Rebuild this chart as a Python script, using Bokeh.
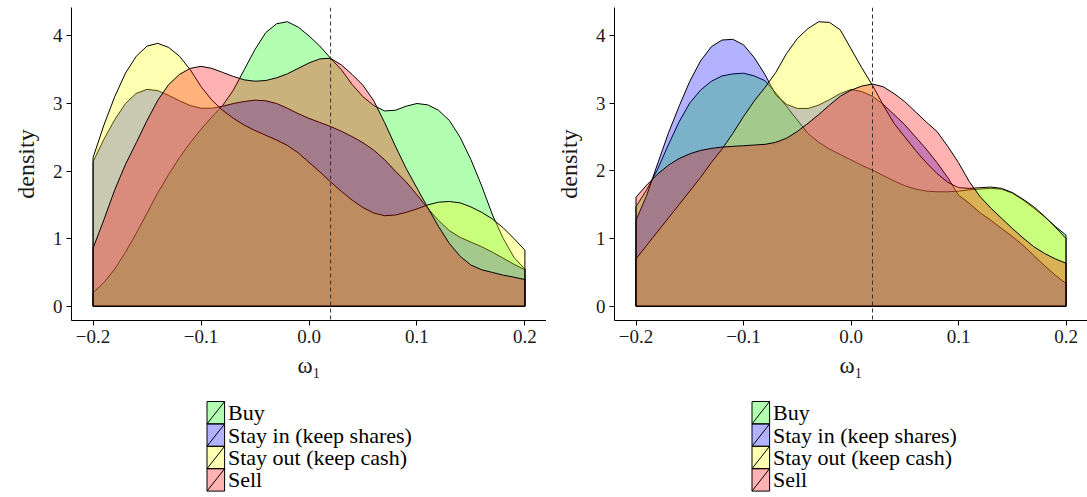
from bokeh.plotting import figure
from bokeh.layouts import row, column
from bokeh.models import Range1d, FixedTicker, CustomJSTickFormatter, Span, ColumnDataSource
from bokeh.core.properties import value
from bokeh.embed import file_html
from bokeh.resources import INLINE

# ---------------- data ----------------
X = [-0.20, -0.19, -0.18, -0.17, -0.16, -0.15, -0.14, -0.13, -0.12, -0.11, -0.10,
     -0.09, -0.08, -0.07, -0.06, -0.05, -0.04, -0.03, -0.02, -0.01, 0.00,
     0.01, 0.02, 0.03, 0.04, 0.05, 0.06, 0.07, 0.08, 0.09, 0.10,
     0.11, 0.12, 0.13, 0.14, 0.15, 0.16, 0.17, 0.18, 0.19, 0.20]

categories = ["Buy", "Stay in (keep shares)", "Stay out (keep cash)", "Sell"]
colors = ["#00FF00", "#0000FF", "#FFFF00", "#FF0000"]

left_buy = [0.20, 0.35, 0.55, 0.80, 1.08, 1.38, 1.68, 1.95, 2.20, 2.42, 2.62,
            2.80, 2.97, 3.20, 3.50, 3.80, 4.05, 4.18, 4.21, 4.13, 4.00,
            3.85, 3.67, 3.50, 3.28, 3.10, 2.97, 2.89, 2.90, 2.96, 3.00,
            2.98, 2.90, 2.75, 2.50, 2.17, 1.78, 1.35, 1.00, 0.72, 0.55]
left_stay_in = [2.14, 2.47, 2.76, 3.00, 3.15, 3.21, 3.19, 3.12, 3.04, 2.97, 2.93,
                2.93, 2.96, 3.00, 3.03, 3.05, 3.04, 3.00, 2.93, 2.85, 2.78,
                2.72, 2.66, 2.59, 2.51, 2.42, 2.31, 2.17, 2.00, 1.84, 1.65,
                1.45, 1.27, 1.12, 1.02, 0.95, 0.88, 0.80, 0.71, 0.62, 0.54]
left_stay_out = [2.20, 2.68, 3.10, 3.45, 3.70, 3.85, 3.89, 3.83, 3.70, 3.50, 3.25,
                 3.05, 2.90, 2.78, 2.68, 2.60, 2.53, 2.46, 2.38, 2.27, 2.13,
                 1.99, 1.84, 1.70, 1.57, 1.46, 1.38, 1.34, 1.35, 1.39, 1.44,
                 1.50, 1.54, 1.55, 1.53, 1.47, 1.39, 1.29, 1.16, 1.00, 0.83]
left_sell = [0.86, 1.28, 1.72, 2.10, 2.42, 2.75, 3.05, 3.28, 3.43, 3.52, 3.55,
             3.52, 3.46, 3.40, 3.35, 3.33, 3.34, 3.38, 3.44, 3.52, 3.60,
             3.66, 3.67, 3.57, 3.43, 3.27, 3.04, 2.72, 2.37, 2.04, 1.75,
             1.46, 1.18, 0.93, 0.74, 0.61, 0.54, 0.50, 0.46, 0.43, 0.395]

right_buy = [1.47, 1.72, 2.02, 2.38, 2.72, 3.00, 3.19, 3.32, 3.40, 3.43, 3.44,
             3.40, 3.33, 3.15, 2.95, 2.75, 2.55, 2.42, 2.32, 2.24, 2.16,
             2.08, 2.01, 1.93, 1.85, 1.78, 1.73, 1.70, 1.69, 1.69, 1.70,
             1.72, 1.73, 1.74, 1.73, 1.67, 1.57, 1.45, 1.32, 1.18, 1.05]
right_stay_in = [1.27, 1.64, 2.10, 2.55, 2.95, 3.32, 3.62, 3.83, 3.93, 3.94, 3.86,
                 3.67, 3.42, 3.12, 2.98, 2.92, 2.92, 2.97, 3.05, 3.14, 3.20,
                 3.17, 3.10, 2.98, 2.83, 2.68, 2.50, 2.32, 2.12, 1.90, 1.64,
                 1.52, 1.38, 1.27, 1.15, 1.03, 0.90, 0.75, 0.60, 0.46, 0.335]
right_stay_out = [0.70, 0.90, 1.10, 1.30, 1.50, 1.70, 1.90, 2.12, 2.32, 2.55, 2.80,
                  3.03, 3.23, 3.45, 3.73, 3.95, 4.10, 4.20, 4.19, 4.08, 3.80,
                  3.52, 3.26, 2.97, 2.70, 2.50, 2.30, 2.12, 1.96, 1.83, 1.75,
                  1.74, 1.75, 1.76, 1.74, 1.68, 1.58, 1.47, 1.33, 1.17, 1.00]
right_sell = [1.61, 1.79, 1.95, 2.08, 2.18, 2.25, 2.30, 2.33, 2.35, 2.36, 2.37,
              2.38, 2.39, 2.42, 2.48, 2.58, 2.70, 2.83, 2.97, 3.10, 3.19,
              3.25, 3.28, 3.24, 3.14, 3.02, 2.87, 2.72, 2.58, 2.36, 2.12,
              1.84, 1.62, 1.45, 1.30, 1.15, 1.01, 0.88, 0.78, 0.70, 0.635]

x_ticks = [-0.2, -0.1, 0.0, 0.1, 0.2]
y_ticks = [0, 1, 2, 3, 4]
vline_x = 0.02

panels = [
    [left_buy, left_stay_in, left_stay_out, left_sell],
    [right_buy, right_stay_in, right_stay_out, right_sell],
]

FONT = "Liberation Serif"
TXT = "#1a1a1a"


def make_panel(series, width, border_left):
    ymax = max(max(s) for s in series)
    xmin, xmax = min(X), max(X)
    xpad = 0.05 * (xmax - xmin)
    p = figure(width=width, height=398, output_backend="svg", toolbar_location=None,
               x_range=Range1d(xmin - xpad, xmax + xpad),
               y_range=Range1d(-0.05 * ymax, 1.05 * ymax),
               min_border_left=border_left, min_border_right=0,
               min_border_top=7, min_border_bottom=78)
    p.outline_line_color = None
    p.grid.visible = False
    p.background_fill_color = "white"
    p.border_fill_color = "white"
    for s, c in zip(series, colors):
        xs = [X[0]] + X + [X[-1]]
        ys = [0.0] + s + [0.0]
        p.patch(xs, ys, fill_color=c, fill_alpha=0.3, line_color="black", line_width=1)
    p.add_layout(Span(location=vline_x, dimension="height", line_color="#333333",
                      line_dash="4 3", line_width=1))
    for ax in (p.xaxis[0], p.yaxis[0]):
        ax.axis_line_color = "black"
        ax.axis_line_width = 1
        ax.major_tick_line_color = "black"
        ax.major_tick_out = 5
        ax.major_tick_in = 0
        ax.minor_tick_line_color = None
        ax.major_label_text_font = FONT
        ax.major_label_text_font_size = "19px"
        ax.major_label_text_color = TXT
        ax.major_label_standoff = 4
        ax.axis_label_text_font = FONT
        ax.axis_label_text_font_style = "normal"
        ax.axis_label_text_color = TXT
    p.xaxis.ticker = FixedTicker(ticks=x_ticks)
    p.xaxis.formatter = CustomJSTickFormatter(
        code="return (tick < -1e-9 ? '\u2212' : '') + Math.abs(tick).toFixed(1);")
    p.yaxis.ticker = FixedTicker(ticks=y_ticks)
    p.xaxis.axis_label = "ω₁"
    p.xaxis.axis_label_text_font_size = "23px"
    p.xaxis.axis_label_standoff = 7
    p.yaxis.axis_label = "density"
    p.yaxis.axis_label_text_font_size = "24px"
    p.yaxis.axis_label_standoff = 11
    return p


def make_legend(width, border_left, frame_width, shift):
    h = 99
    L = figure(width=width, height=h, output_backend="svg", toolbar_location=None,
               x_range=Range1d(0, width), y_range=Range1d(0, h),
               min_border=0, x_axis_type=None, y_axis_type=None)
    L.outline_line_color = None
    L.grid.visible = False
    key_w, key_h, gap, text_w = 17.6, 22.4, 3.4, 183
    block_w = key_w + gap + text_w
    left = border_left + frame_width / 2 - block_w / 2 + shift
    top0 = h - 3
    n = len(categories)
    tops = [top0 - i * key_h for i in range(n)]
    bottoms = [t - key_h for t in tops]
    src = ColumnDataSource(dict(
        left=[left] * n, right=[left + key_w] * n,
        top=tops, bottom=bottoms, color=colors, label=categories,
        tx=[left + key_w + gap] * n,
        ty=[(t + b) / 2 for t, b in zip(tops, bottoms)],
    ))
    L.quad(left="left", right="right", top="top", bottom="bottom", source=src,
           fill_color="color", fill_alpha=0.3, line_color="black", line_width=1)
    L.segment(x0="left", y0="bottom", x1="right", y1="top", source=src,
              line_color="black", line_width=1)
    L.text(x="tx", y="ty", text="label", source=src, text_font=value(FONT),
           text_font_size="22px", text_baseline="middle", text_align="left",
           text_color="black")
    return L


p1 = make_panel(panels[0], 546, 71)
p2 = make_panel(panels[1], 541, 68)
l1 = make_legend(546, 71, 475, 0)
l2 = make_legend(541, 68, 473, 3)

layout = column(row(p1, p2), row(l1, l2))
open("out.html", "w").write(file_html(layout, INLINE))
